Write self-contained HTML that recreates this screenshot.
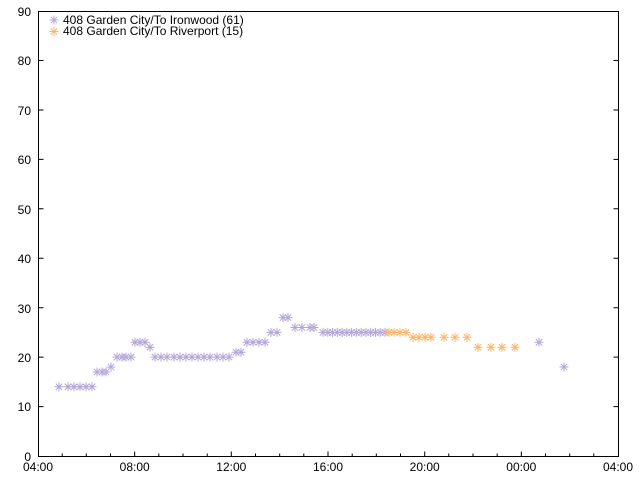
<!DOCTYPE html>
<html><head><meta charset="utf-8"><style>
html,body{margin:0;padding:0;background:#fff;}
svg{display:block;font-family:"Liberation Sans",sans-serif;font-size:12px;}
</style></head><body>
<svg width="640" height="480" viewBox="0 0 640 480" xmlns="http://www.w3.org/2000/svg">
<defs>
<g id="p" fill="none" stroke-width="1"><path d="M-4.5,0H4.5M0,-4.5V4.5M-3.2,-3.2L3.2,3.2M-3.2,3.2L3.2,-3.2"/></g>
</defs>
<rect width="640" height="480" fill="#fff"/>
<!-- border -->
<path d="M38.5,11.5H618.5V456.5H38.5Z" fill="none" stroke="#000" stroke-width="1"/>
<!-- y ticks -->
<g stroke="#000" stroke-width="1">
<path d="M38.5,406.6h5M38.5,357.1h5M38.5,307.7h5M38.5,258.3h5M38.5,208.8h5M38.5,159.4h5M38.5,110h5M38.5,60.5h5"/>
<path d="M618.5,406.6h-5M618.5,357.1h-5M618.5,307.7h-5M618.5,258.3h-5M618.5,208.8h-5M618.5,159.4h-5M618.5,110h-5M618.5,60.5h-5"/>
<!-- x major -->
<path d="M134.7,456.5v-5M231.3,456.5v-5M328,456.5v-5M424.7,456.5v-5M521.3,456.5v-5"/>
<!-- x minor -->
<path d="M62.2,456.5v-3M86.3,456.5v-3M110.5,456.5v-3M158.8,456.5v-3M183,456.5v-3M207.2,456.5v-3M255.5,456.5v-3M279.7,456.5v-3M303.8,456.5v-3M352.2,456.5v-3M376.3,456.5v-3M400.5,456.5v-3M448.8,456.5v-3M473,456.5v-3M497.2,456.5v-3M545.5,456.5v-3M569.7,456.5v-3M593.8,456.5v-3"/>
</g>
<!-- y labels -->
<g text-anchor="end" fill="#000">
<text x="31" y="16">90</text>
<text x="31" y="65">80</text>
<text x="31" y="115">70</text>
<text x="31" y="164">60</text>
<text x="31" y="214">50</text>
<text x="31" y="263">40</text>
<text x="31" y="313">30</text>
<text x="31" y="362">20</text>
<text x="31" y="411">10</text>
<text x="31" y="461">0</text>
</g>
<!-- x labels -->
<g text-anchor="middle" fill="#000">
<text x="38" y="471">04:00</text>
<text x="134.7" y="471">08:00</text>
<text x="231.3" y="471">12:00</text>
<text x="328" y="471">16:00</text>
<text x="424.7" y="471">20:00</text>
<text x="521.3" y="471">00:00</text>
<text x="618" y="471">04:00</text>
</g>
<!-- legend -->
<g fill="#000">
<text x="63" y="24">408 Garden City/To Ironwood (61)</text>
<text x="63" y="35">408 Garden City/To Riverport (15)</text>
</g>
<g stroke="#b4a6d8"><use href="#p" x="54" y="20"/></g>
<g stroke="#ffb366"><use href="#p" x="54" y="31.5"/></g>
<!-- purple series -->
<g stroke="#b4a6d8">
<use href="#p" x="59" y="386.8"/><use href="#p" x="68" y="386.8"/><use href="#p" x="74" y="386.8"/><use href="#p" x="80" y="386.8"/><use href="#p" x="86" y="386.8"/><use href="#p" x="92" y="386.8"/>
<use href="#p" x="97" y="372"/><use href="#p" x="102" y="372"/><use href="#p" x="106" y="372"/>
<use href="#p" x="111" y="367"/>
<use href="#p" x="117" y="357.1"/><use href="#p" x="122" y="357.1"/><use href="#p" x="126" y="357.1"/><use href="#p" x="131" y="357.1"/>
<use href="#p" x="135" y="342.3"/><use href="#p" x="140" y="342.3"/><use href="#p" x="145" y="342.3"/>
<use href="#p" x="150" y="347.2"/>
<use href="#p" x="155" y="357.1"/><use href="#p" x="161" y="357.1"/><use href="#p" x="167" y="357.1"/><use href="#p" x="174" y="357.1"/><use href="#p" x="180" y="357.1"/><use href="#p" x="186" y="357.1"/><use href="#p" x="192" y="357.1"/><use href="#p" x="198" y="357.1"/><use href="#p" x="204" y="357.1"/><use href="#p" x="210" y="357.1"/><use href="#p" x="217" y="357.1"/><use href="#p" x="223" y="357.1"/><use href="#p" x="229" y="357.1"/>
<use href="#p" x="236" y="352.2"/><use href="#p" x="241" y="352.2"/>
<use href="#p" x="247" y="342.3"/><use href="#p" x="253" y="342.3"/><use href="#p" x="259" y="342.3"/><use href="#p" x="265" y="342.3"/>
<use href="#p" x="271" y="332.4"/><use href="#p" x="277" y="332.4"/>
<use href="#p" x="283" y="317.6"/><use href="#p" x="288" y="317.6"/>
<use href="#p" x="295" y="327.5"/><use href="#p" x="302" y="327.5"/><use href="#p" x="310" y="327.5"/><use href="#p" x="314" y="327.5"/>
<use href="#p" x="323" y="332.4"/><use href="#p" x="327.8" y="332.4"/><use href="#p" x="332.5" y="332.4"/><use href="#p" x="337.3" y="332.4"/><use href="#p" x="342.1" y="332.4"/><use href="#p" x="346.8" y="332.4"/><use href="#p" x="351.6" y="332.4"/><use href="#p" x="356.4" y="332.4"/><use href="#p" x="361.2" y="332.4"/><use href="#p" x="365.9" y="332.4"/><use href="#p" x="370.7" y="332.4"/><use href="#p" x="375.5" y="332.4"/><use href="#p" x="380.2" y="332.4"/><use href="#p" x="385" y="332.4"/>
<use href="#p" x="539" y="342.3"/>
<use href="#p" x="564" y="367"/>
</g>
<!-- orange series -->
<g stroke="#ffb366">
<use href="#p" x="389" y="332.4"/><use href="#p" x="394" y="332.4"/><use href="#p" x="400" y="332.4"/><use href="#p" x="406" y="332.4"/>
<use href="#p" x="413" y="337.3"/><use href="#p" x="419" y="337.3"/><use href="#p" x="425" y="337.3"/><use href="#p" x="431" y="337.3"/><use href="#p" x="444" y="337.3"/><use href="#p" x="455" y="337.3"/><use href="#p" x="467" y="337.3"/>
<use href="#p" x="478" y="347.2"/><use href="#p" x="491" y="347.2"/><use href="#p" x="502" y="347.2"/><use href="#p" x="515" y="347.2"/>
</g>
</svg>
</body></html>
